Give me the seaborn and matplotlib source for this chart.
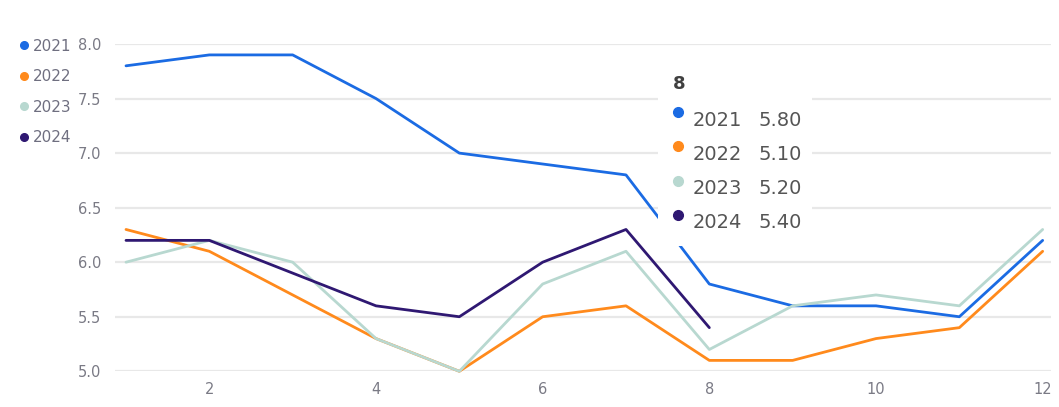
import pandas as pd
import matplotlib.pyplot as plt
import matplotlib.patches as mpatches
from matplotlib.lines import Line2D
import seaborn as sns

# Dane (miesiące 1-12)
months = list(range(1, 13))
years = ["2021", "2022", "2023", "2024"]
v2021 = [7.8, 7.9, 7.9, 7.5, 7.0, 6.9, 6.8, 5.8, 5.6, 5.6, 5.5, 6.2]
v2022 = [6.3, 6.1, 5.7, 5.3, 5.0, 5.5, 5.6, 5.1, 5.1, 5.3, 5.4, 6.1]
v2023 = [6.0, 6.2, 6.0, 5.3, 5.0, 5.8, 6.1, 5.2, 5.6, 5.7, 5.6, 6.3]
v2024 = [6.2, 6.2, 5.9, 5.6, 5.5, 6.0, 6.3, 5.4]
colors = ["#1b6be3", "#ff8a1c", "#b8d8d0", "#2f1872"]
x_ticks = [2, 4, 6, 8, 10, 12]
y_ticks = [5.0, 5.5, 6.0, 6.5, 7.0, 7.5, 8.0]
hover_month = 8

series = {"2021": v2021, "2022": v2022, "2023": v2023, "2024": v2024}
rows = []
for y, vals in series.items():
    for m, v in zip(months, vals):
        rows.append({"month": m, "year": y, "value": v})
df = pd.DataFrame(rows)

sns.set_theme(style="white")
plt.rcParams['font.family'] = ['DejaVu Sans']

W, H = 1059, 407
fig = plt.figure(figsize=(W / 100, H / 100), dpi=100)
ax = fig.add_axes([115 / W, 1 - 371.3 / H, (1051 - 115) / W, (371.3 - 44) / H])

sns.lineplot(data=df, x="month", y="value", hue="year", hue_order=years,
             palette=colors, linewidth=2, ax=ax, legend=False, clip_on=False, zorder=3)

ax.set_xlim(0.868, 12.1)
ax.set_ylim(5.0, 8.0)
ax.set_xticks(x_ticks)
ax.set_yticks(y_ticks)
ax.set_yticklabels([f"{t:.1f}" for t in y_ticks])
ax.tick_params(axis="both", length=0, labelsize=10.5, colors="#7a7a85")
ax.tick_params(axis="x", pad=8)
ax.tick_params(axis="y", pad=10)
ax.set_xlabel("")
ax.set_ylabel("")
ax.grid(axis="y", color="#e8e8e8", linewidth=1.6)
ax.set_axisbelow(True)
for s in ax.spines.values():
    s.set_visible(False)

# Legenda po lewej stronie
handles = [Line2D([], [], marker="o", ls="", color=c, markersize=5.5) for c in colors]
leg = fig.legend(handles, years, loc="upper left", bbox_to_anchor=(12 / W, 1 - 31 / H),
                 frameon=False, fontsize=11, handlelength=0.6, handletextpad=0.25,
                 labelspacing=1.02, borderpad=0)
for t in leg.get_texts():
    t.set_color("#6f6f80")

# Tooltip dla miesiąca 8
box = mpatches.Rectangle((658 / W, 1 - 246 / H), (812 - 658) / W, (246 - 52) / H,
                         transform=fig.transFigure, facecolor="white", edgecolor="none",
                         zorder=10, clip_on=False)
ax.add_patch(box)
ax.text(673 / W, 1 - 84 / H, str(hover_month), transform=fig.transFigure,
        fontsize=13, fontweight="bold", color="#404040", va="center", ha="left", zorder=11)
for i, (y, c) in enumerate(zip(years, colors)):
    val = series[y][hover_month - 1]
    ty = 120 + i * 34.3
    ax.plot([678 / W], [1 - (ty - 8) / H], marker="o", markersize=7, color=c,
            transform=fig.transFigure, clip_on=False, zorder=11)
    ax.text(693 / W, 1 - ty / H, y, transform=fig.transFigure, fontsize=14,
            color="#555555", va="center", ha="left", zorder=11)
    ax.text(758 / W, 1 - ty / H, f"{val:.2f}", transform=fig.transFigure, fontsize=14,
            color="#555555", va="center", ha="left", zorder=11)

fig.savefig("out.png", dpi=100)
